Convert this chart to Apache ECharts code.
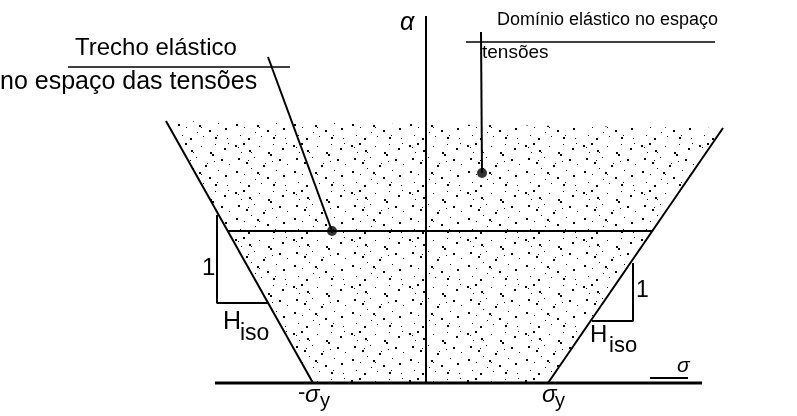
<!DOCTYPE html>
<html><head><meta charset="utf-8">
<script src="https://cdn.jsdelivr.net/npm/echarts@6/dist/echarts.min.js"></script>
<style>html,body{margin:0;padding:0;background:#fff}#c{width:797px;height:416px}</style>
</head><body><div id="c"></div>
<script>
// Diagram coordinates: sigma (horizontal), alpha (vertical)
const elasticDomain = [[-1.13,0],[1.22,0],[2.97,2.55],[-2.60,2.62]];
const leftBoundary = [[-1.13,0],[-2.60,2.62]];
const rightBoundary = [[1.22,0],[2.97,2.55]];
const sigmaAxisLine = [[-2.11,0],[2.76,0]];
const alphaAxisLine = [[0,0],[0,3.67]];
const elasticSegment = [[-1.98,1.52],[2.26,1.52]];
const leftSlope = [[-2.09,1.68],[-2.09,0.80],[-1.58,0.80]];
const rightSlope = [[2.07,1.20],[2.07,0.62],[1.66,0.62]];
const leaderLeft = [[-1.58,3.26],[-0.94,1.52]];
const leaderRight = [[0.55,3.51],[0.56,2.10]];
const underlineLeft = [[-3.58,3.16],[-1.36,3.16]];
const underlineRight = [[0.40,3.41],[2.89,3.41]];
const sigmaMark = [[2.24,0.05],[2.62,0.05]];
const markedPoints = [[-0.94,1.52],[0.56,2.10]];
const labels = {
  trecho1: 'Trecho elástico', trecho2: 'no espaço das tensões',
  dominio1: 'Domínio elástico no espaço', dominio2: 'tensões',
  alpha: 'α', sigma: 'σ', one: '1', H: 'H', iso: 'iso', y: 'y'
};

// stipple tile (fixed hand-placed dot layout)
const tile = document.createElement('canvas');
tile.width = 58; tile.height = 47;
const tc = tile.getContext('2d');
tc.fillStyle = '#000';
[[3,4,2],[6,6,1],[11,2,2],[17,9,2],[19,11,1],[27,5,1],[36,11,2],[38,13,2],[41,3,1],[50,7,2],[54,2,1],
 [6,17,2],[14,21,2],[16,19,1],[22,16,1],[31,24,2],[33,22,1],[40,20,1],[47,18,2],[55,23,1],
 [4,30,2],[12,33,1],[25,31,2],[27,33,1],[35,36,2],[44,29,1],[19,27,1],[9,11,1],[51,34,2],
 [8,41,1],[16,44,2],[29,42,1],[41,43,2],[43,41,1],[53,44,1],[23,38,1]].forEach(d=>tc.fillRect(d[0],d[1],d[2],d[2]));

const chart = echarts.init(document.getElementById('c'), null, {renderer:'canvas'});
function seg(data, w){ return {type:'line', data, symbol:'none', silent:true, animation:false,
  lineStyle:{color:'#000', width:w}}; }
const FF = 'Liberation Sans';
function txt(text, left, top, size, italic){
  return {type:'text', left, top, silent:true,
    style:{text, fontSize:size, fontFamily:FF, fontStyle: italic?'italic':'normal', fill:'#000'}};
}
chart.setOption({
  animation:false,
  grid:{left:0,right:0,top:0,bottom:0},
  xAxis:{type:'value', min:-4.26, max:3.71, show:false},
  yAxis:{type:'value', min:-0.33, max:3.83, show:false},
  series:[
    {type:'custom', silent:true, renderItem:function(params, api){
      const pts = elasticDomain.map(p=>api.coord(p));
      return {type:'polygon', shape:{points:pts}, style:{fill:{image:tile, repeat:'repeat'}, stroke:null}};
    }, data:[0]},
    seg(sigmaAxisLine,3), seg(alphaAxisLine,2), seg(leftBoundary,2), seg(rightBoundary,2),
    seg(elasticSegment,2), seg(leftSlope,2), seg(rightSlope,2),
    seg(leaderLeft,2), seg(leaderRight,2), seg(underlineLeft,1.5), seg(underlineRight,1.5),
    seg(sigmaMark,2),
    {type:'scatter', data:markedPoints, symbolSize:10, itemStyle:{color:'#000'}, silent:true}
  ],
  graphic:[
    txt(labels.trecho1, 75, 36, 24),
    txt(labels.trecho2, 0, 70, 25),
    txt(labels.dominio1, 497, 11, 18),
    txt(labels.dominio2, 482, 43, 19),
    txt(labels.alpha, 400, 11, 25, true),
    txt(labels.sigma, 677, 356, 21, true),
    txt(labels.one, 202, 256, 24),
    txt(labels.one, 636, 279, 23),
    txt(labels.H, 223, 310, 25),
    txt(labels.iso, 240, 322, 23),
    txt(labels.H, 590, 323, 24),
    txt(labels.iso, 609, 335, 22),
    txt('-', 298, 382, 22),
    txt(labels.sigma, 305, 383, 24, true),
    txt(labels.y, 320, 391, 20),
    txt(labels.sigma, 542, 383, 24, true),
    txt(labels.y, 555, 391, 20)
  ]
});
</script></body></html>
